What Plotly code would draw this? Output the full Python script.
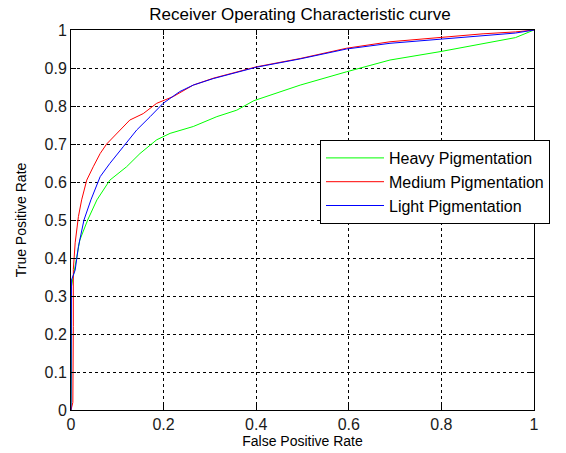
"""ROC curve by pigmentation class."""

import plotly.graph_objects as go

heavy_fpr = [0, 0.001, 0.001, 0.012, 0.019, 0.036, 0.056, 0.084, 0.12, 0.149, 0.185,
             0.214, 0.264, 0.315, 0.358, 0.395, 0.495, 0.595, 0.689, 0.797, 0.89, 0.96, 1.0]
heavy_tpr = [0, 0.1, 0.325, 0.395, 0.447, 0.5, 0.553, 0.605, 0.64, 0.675, 0.711,
             0.728, 0.746, 0.772, 0.789, 0.814, 0.855, 0.89, 0.921, 0.943, 0.965, 0.98, 1.0]

medium_fpr = [0, 0.004, 0.005, 0.005, 0.009, 0.016, 0.023, 0.034, 0.048, 0.063, 0.077,
              0.099, 0.127, 0.156, 0.185, 0.221, 0.264, 0.307, 0.35, 0.40, 0.495,
              0.595, 0.689, 0.797, 0.89, 0.96, 1.0]
medium_tpr = [0, 0.02, 0.22, 0.37, 0.44, 0.509, 0.553, 0.605, 0.64, 0.675, 0.70,
              0.728, 0.763, 0.78, 0.807, 0.825, 0.855, 0.873, 0.886, 0.903, 0.925,
              0.952, 0.969, 0.98, 0.99, 0.995, 1.0]

light_fpr = [0, 0.001, 0.001, 0.009, 0.016, 0.028, 0.043, 0.063, 0.084, 0.113, 0.142,
             0.171, 0.199, 0.235, 0.264, 0.307, 0.35, 0.40, 0.495, 0.595, 0.689,
             0.797, 0.89, 0.96, 1.0]
light_tpr = [0, 0.2, 0.342, 0.368, 0.43, 0.5, 0.553, 0.614, 0.649, 0.693, 0.737,
             0.772, 0.807, 0.838, 0.855, 0.872, 0.886, 0.902, 0.924, 0.95, 0.965,
             0.975, 0.985, 0.992, 1.0]

x_ticks = [0, 0.2, 0.4, 0.6, 0.8, 1]
x_labels = ["0", "0.2", "0.4", "0.6", "0.8", "1"]
y_ticks = [0, 0.1, 0.2, 0.3, 0.4, 0.5, 0.6, 0.7, 0.8, 0.9, 1]
y_labels = ["0", "0.1", "0.2", "0.3", "0.4", "0.5", "0.6", "0.7", "0.8", "0.9", "1"]

fig = go.Figure()
for name, fpr, tpr, color in [
    ("Heavy Pigmentation", heavy_fpr, heavy_tpr, "#00ff00"),
    ("Medium Pigmentation", medium_fpr, medium_tpr, "#ff0000"),
    ("Light Pigmentation", light_fpr, light_tpr, "#0000ff"),
]:
    fig.add_trace(go.Scatter(x=fpr, y=tpr, mode="lines", name=name,
                             line=dict(color=color, width=1)))

axis_style = dict(
    showline=True, linecolor="black", linewidth=1, mirror="ticks",
    ticks="inside", ticklen=5, tickcolor="black",
    showgrid=True, gridcolor="black", gridwidth=1, griddash="3px,3px",
    zeroline=False, automargin=False,
    tickfont=dict(size=16, color="#1a1a1a"),
)

fig.update_xaxes(range=[0, 1], tickvals=x_ticks, ticktext=x_labels,
                 title=dict(text="False Positive Rate", font=dict(size=14), standoff=0),
                 **axis_style)
fig.update_yaxes(range=[0, 1], tickvals=y_ticks, ticktext=y_labels,
                 title=dict(text="True Positive Rate", font=dict(size=14), standoff=14),
                 **axis_style)

# page body adds an 8px offset, so the figure is sized to fit inside the window
fig.update_layout(
    width=558, height=445,
    margin=dict(l=63, r=32, t=22, b=43),
    paper_bgcolor="white", plot_bgcolor="white",
    font=dict(family="Liberation Sans, Arial, sans-serif", color="black"),
    title=dict(text="Receiver Operating Characteristic curve", font=dict(size=17),
               x=292 / 558, xanchor="center", y=1, yanchor="top"),
    legend=dict(x=(320 - 71) / 463, y=(410 - 140) / 380, xanchor="left", yanchor="top",
                bgcolor="white", bordercolor="black", borderwidth=1,
                font=dict(size=16), tracegroupgap=0, itemwidth=58),
    showlegend=True,
)

fig.write_html("out.html")
